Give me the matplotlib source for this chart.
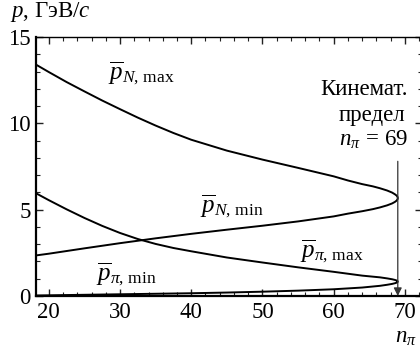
import matplotlib
matplotlib.use("Agg")
import matplotlib.pyplot as plt
from matplotlib.ticker import MultipleLocator

plt.rcParams['font.family'] = ['Liberation Serif', 'DejaVu Serif']
plt.rcParams['mathtext.fontset'] = 'custom'
plt.rcParams['mathtext.rm'] = 'Liberation Serif'
plt.rcParams['mathtext.it'] = 'Liberation Serif:italic'
plt.rcParams['mathtext.bf'] = 'Liberation Serif:bold'

# number of pions
n_pi = [18.2, 20, 22.5, 25, 27.5, 30, 32.5, 35, 37.5, 40, 45, 50, 55, 60, 62, 64,
        65.5, 66.5, 67.5, 68.2, 68.6, 68.85, 68.97, 69]

# nucleon momentum bounds, GeV/c
pN_max = [13.4, 12.97, 12.39, 11.85, 11.32, 10.82, 10.33, 9.87, 9.44, 9.05, 8.42, 7.9, 7.42, 6.93, 6.69, 6.48,
          6.35, 6.24, 6.11, 5.99, 5.89, 5.81, 5.73, 5.67]
pN_min = [2.35, 2.45, 2.605, 2.76, 2.91, 3.06, 3.2, 3.34, 3.47, 3.6, 3.84, 4.07, 4.32, 4.61, 4.77, 4.91,
          5.03, 5.13, 5.25, 5.36, 5.45, 5.53, 5.61, 5.67]

# pion momentum bounds, GeV/c
ppi_max = [5.95, 5.55, 5.02, 4.52, 4.06, 3.65, 3.3, 3.015, 2.78, 2.59, 2.23, 1.94, 1.66, 1.40, 1.29, 1.18,
           1.12, 1.08, 1.02, 0.97, 0.93, 0.895, 0.862, 0.835]
ppi_min = [0.03, 0.04, 0.055, 0.07, 0.085, 0.1, 0.115, 0.13, 0.145, 0.16, 0.2, 0.25, 0.31, 0.39, 0.44, 0.49,
           0.55, 0.59, 0.65, 0.70, 0.74, 0.775, 0.808, 0.835]

n_limit = 69

fig = plt.figure(figsize=(4.2, 3.51), dpi=100)
ax = fig.add_axes([36 / 420, 55 / 351, 386 / 420, 259 / 351])

# max and min branches joined into one path through the kinematic limit
ax.plot(n_pi + n_pi[::-1], pN_max + pN_min[::-1], color='black', lw=1.4)
ax.plot(n_pi + n_pi[::-1], ppi_max + ppi_min[::-1], color='black', lw=1.4)

ax.set_xlim(18.2, 72.4)
ax.set_ylim(0, 15)
ax.xaxis.set_major_locator(MultipleLocator(10))
ax.xaxis.set_minor_locator(MultipleLocator(2))
ax.yaxis.set_major_locator(MultipleLocator(5))
ax.yaxis.set_minor_locator(MultipleLocator(1))
ax.tick_params(which='both', direction='in', top=True, right=True,
               labelsize=16.5, color='#222222')
ax.tick_params(which='major', length=5, width=1.0, pad=4)
ax.tick_params(which='minor', length=3, width=0.8)
for side in ['left', 'bottom']:
    ax.spines[side].set_linewidth(1.6)
for side in ['top', 'right']:
    ax.spines[side].set_linewidth(1.0)

# curve labels
lab = dict(fontsize=18, va='center', ha='left')
ax.text(28.3, 12.88, r'$\overline{p}_{N,\,\mathrm{max}}$', **lab)
ax.text(41.2, 5.21, r'$\overline{p}_{N,\,\mathrm{min}}$', **lab)
ax.text(55.25, 2.58, r'$\overline{p}_{\pi,\,\mathrm{max}}$', **lab)
ax.text(26.6, 1.24, r'$\overline{p}_{\pi,\,\mathrm{min}}$', **lab)

# kinematic limit marker
ax.annotate('', xy=(n_limit, 0), xytext=(n_limit, 7.8),
            arrowprops=dict(arrowstyle='-|>', color='#333333', lw=0.9,
                            mutation_scale=12, shrinkA=0, shrinkB=0))
ax.text(70.45, 11.64, 'Кинемат.', fontsize=16.5, ha='right', va='baseline')
ax.text(70.0, 10.13, 'предел', fontsize=16.5, ha='right', va='baseline')
ax.text(70.45, 8.69, r'$n_{\pi}\,=\,69$', fontsize=16.5, ha='right', va='baseline')

# axis titles
fig.text(10 / 420, 1 - 17 / 351, r'$p$, ГэВ/$c$', fontsize=16.5, va='baseline', ha='left')
fig.text(395 / 420, 1 - 343 / 351, r'$n_{\pi}$', fontsize=16.5, va='baseline', ha='left')

fig.savefig('out.png', dpi=100)
